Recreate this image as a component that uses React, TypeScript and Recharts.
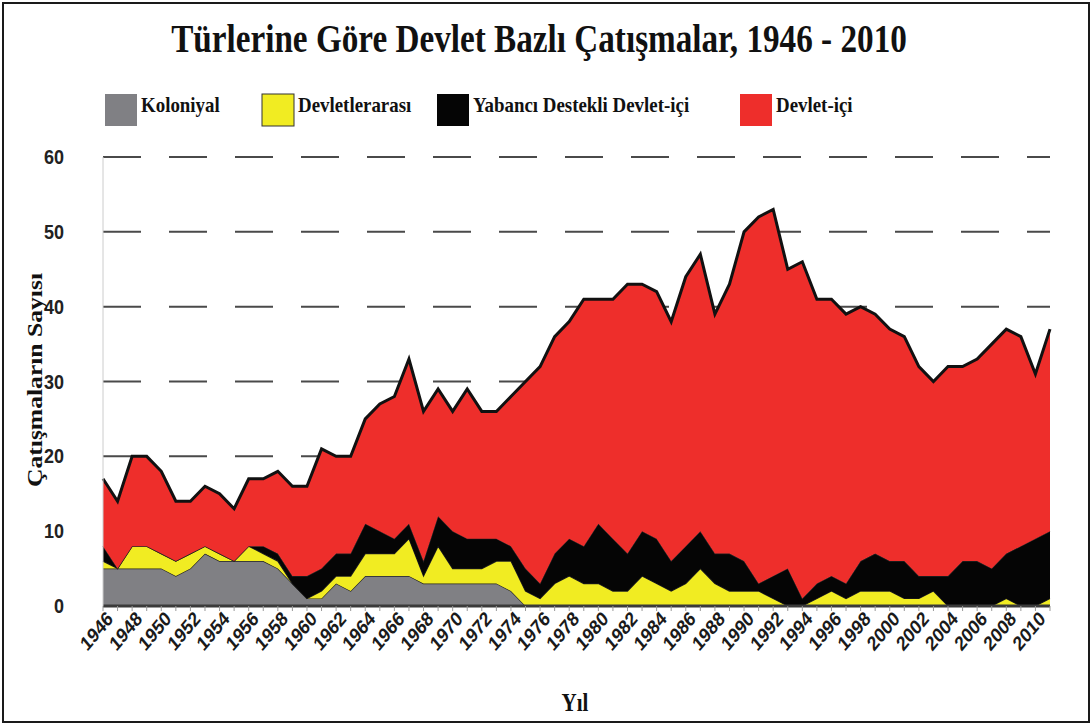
import React from 'react';
import { AreaChart, Area, XAxis, YAxis, CartesianGrid } from 'recharts';

// yıllar 1946-2011
const years = [
  '1946', '1947', '1948', '1949', '1950', '1951', '1952', '1953', '1954', '1955',
  '1956', '1957', '1958', '1959', '1960', '1961', '1962', '1963', '1964', '1965',
  '1966', '1967', '1968', '1969', '1970', '1971', '1972', '1973', '1974', '1975',
  '1976', '1977', '1978', '1979', '1980', '1981', '1982', '1983', '1984', '1985',
  '1986', '1987', '1988', '1989', '1990', '1991', '1992', '1993', '1994', '1995',
  '1996', '1997', '1998', '1999', '2000', '2001', '2002', '2003', '2004', '2005',
  '2006', '2007', '2008', '2009', '2010', '2011',
];

const koloniyal = [
  5, 5, 5, 5, 5, 4, 5, 7, 6, 6,
  6, 6, 5, 3, 1, 1, 3, 2, 4, 4,
  4, 4, 3, 3, 3, 3, 3, 3, 2, 0,
  0, 0, 0, 0, 0, 0, 0, 0, 0, 0,
  0, 0, 0, 0, 0, 0, 0, 0, 0, 0,
  0, 0, 0, 0, 0, 0, 0, 0, 0, 0,
  0, 0, 0, 0, 0, 0,
];

const devletlerarasi = [
  1, 0, 3, 3, 2, 2, 2, 1, 1, 0,
  2, 1, 1, 0, 0, 1, 1, 2, 3, 3,
  3, 5, 1, 5, 2, 2, 2, 3, 4, 2,
  1, 3, 4, 3, 3, 2, 2, 4, 3, 2,
  3, 5, 3, 2, 2, 2, 1, 0, 0, 1,
  2, 1, 2, 2, 2, 1, 1, 2, 0, 0,
  0, 0, 1, 0, 0, 1,
];

const yabanciDestekli = [
  2, 0, 0, 0, 0, 0, 0, 0, 0, 0,
  0, 1, 1, 1, 3, 3, 3, 3, 4, 3,
  2, 2, 2, 4, 5, 4, 4, 3, 2, 3,
  2, 4, 5, 5, 8, 7, 5, 6, 6, 4,
  5, 5, 4, 5, 4, 1, 3, 5, 1, 2,
  2, 2, 4, 5, 4, 5, 3, 2, 4, 6,
  6, 5, 6, 8, 9, 9,
];

const devletIci = [
  9, 9, 12, 12, 11, 8, 7, 8, 8, 7,
  9, 9, 11, 12, 12, 16, 13, 13, 14, 17,
  19, 22, 20, 17, 16, 20, 17, 17, 20, 25,
  29, 29, 29, 33, 30, 32, 36, 33, 33, 32,
  36, 37, 32, 36, 44, 49, 49, 40, 45, 38,
  37, 36, 34, 32, 31, 30, 28, 26, 28, 26,
  27, 30, 30, 28, 22, 27,
];

const xTickLabels = [
  '1946', '1948', '1950', '1952', '1954', '1956', '1958', '1960', '1962', '1964',
  '1966', '1968', '1970', '1972', '1974', '1976', '1978', '1980', '1982', '1984',
  '1986', '1988', '1990', '1992', '1994', '1996', '1998', '2000', '2002', '2004',
  '2006', '2008', '2010',
];

const yTicks = [0, 10, 20, 30, 40, 50, 60];

const series = [
  { key: 'koloniyal', name: 'Koloniyal', color: '#808084' },
  { key: 'devletlerarasi', name: 'Devletlerarası', color: '#f1ec22' },
  { key: 'yabanciDestekli', name: 'Yabancı Destekli Devlet-içi', color: '#050505' },
  { key: 'devletIci', name: 'Devlet-içi', color: '#ee2e2b' },
];

const data = years.map((year, i) => ({
  year,
  koloniyal: koloniyal[i],
  devletlerarasi: devletlerarasi[i],
  yabanciDestekli: yabanciDestekli[i],
  devletIci: devletIci[i],
}));

const serif = '"Liberation Serif", "Times New Roman", serif';
const sans = '"Liberation Sans", Arial, sans-serif';

// lejant kutularının yatay konumları
const legendLeft = [105, 262, 437, 740];

const XTick = (props: any) => {
  const { x, y, payload } = props;
  if (!xTickLabels.includes(payload.value)) return null;
  return (
    <text
      transform={`translate(${x + 11},${y + 7}) scale(1,1.2) rotate(-45)`}
      textAnchor="end"
      fontFamily={sans}
      fontWeight="bold"
      fontSize={17}
      fill="#1a1a1a"
    >
      {payload.value}
    </text>
  );
};

const YTick = (props: any) => {
  const { x, y, payload } = props;
  return (
    <text
      transform={`translate(${x},${y + 7}) scale(1,1.15)`}
      textAnchor="end"
      fontFamily={sans}
      fontWeight="bold"
      fontSize={18}
      fill="#222"
    >
      {payload.value}
    </text>
  );
};

const App: React.FC = () => {
  return (
    <div style={{ position: 'relative', width: 1092, height: 726, background: '#fff' }}>
      <style>{'body{margin:0}'}</style>
      <AreaChart
        width={1092}
        height={726}
        data={data}
        margin={{ top: 157, right: 42, bottom: 60, left: 3 }}
      >
        <CartesianGrid
          vertical={false}
          stroke="#4a4a4a"
          strokeWidth={2}
          strokeDasharray="38 28"
        />
        <XAxis
          dataKey="year"
          interval={0}
          height={60}
          tick={<XTick />}
          tickSize={5}
          tickLine={{ stroke: '#999' }}
          axisLine={{ stroke: '#3a3a3a', strokeWidth: 3 }}
        />
        <YAxis
          width={100}
          domain={[0, 60]}
          ticks={yTicks}
          tickLine={false}
          tickMargin={33}
          axisLine={{ stroke: '#ccc' }}
          tick={<YTick />}
        />
        {series.map((s) => (
          <Area
            key={s.key}
            type="linear"
            dataKey={s.key}
            name={s.name}
            stackId="1"
            fill={s.color}
            fillOpacity={1}
            stroke={s.key === 'devletIci' ? '#111' : '#222'}
            strokeWidth={s.key === 'devletIci' ? 3 : 1.2}
            isAnimationActive={false}
          />
        ))}
      </AreaChart>

      <svg
        width={1092}
        height={726}
        style={{ position: 'absolute', left: 0, top: 0, pointerEvents: 'none' }}
      >
        <text
          transform="translate(539,52) scale(0.83,1)"
          textAnchor="middle"
          fontFamily={serif}
          fontWeight="bold"
          fontSize={40}
          fill="#111"
        >
          Türlerine Göre Devlet Bazlı Çatışmalar, 1946 - 2010
        </text>
        {series.map((s, i) => (
          <g key={s.key}>
            <rect
              x={legendLeft[i]}
              y={94}
              width={32}
              height={32}
              fill={s.color}
              stroke={i === 1 ? '#333' : 'none'}
            />
            <text
              transform={`translate(${legendLeft[i] + 36},112) scale(0.9,1)`}
              fontFamily={serif}
              fontWeight="bold"
              fontSize={21}
              fill="#111"
            >
              {s.name}
            </text>
          </g>
        ))}
        <text
          transform="translate(42,380) rotate(-90) scale(1.22,1)"
          textAnchor="middle"
          fontFamily={serif}
          fontWeight="bold"
          fontSize={21}
          fill="#111"
        >
          Çatışmaların Sayısı
        </text>
        <text
          transform="translate(575,711) scale(1,1.15)"
          textAnchor="middle"
          fontFamily={serif}
          fontWeight="bold"
          fontSize={21}
          fill="#111"
        >
          Yıl
        </text>
        <rect x={3} y={3} width={1086} height={719} fill="none" stroke="#1a1a1a" strokeWidth={2} />
      </svg>
    </div>
  );
};

export default App;
